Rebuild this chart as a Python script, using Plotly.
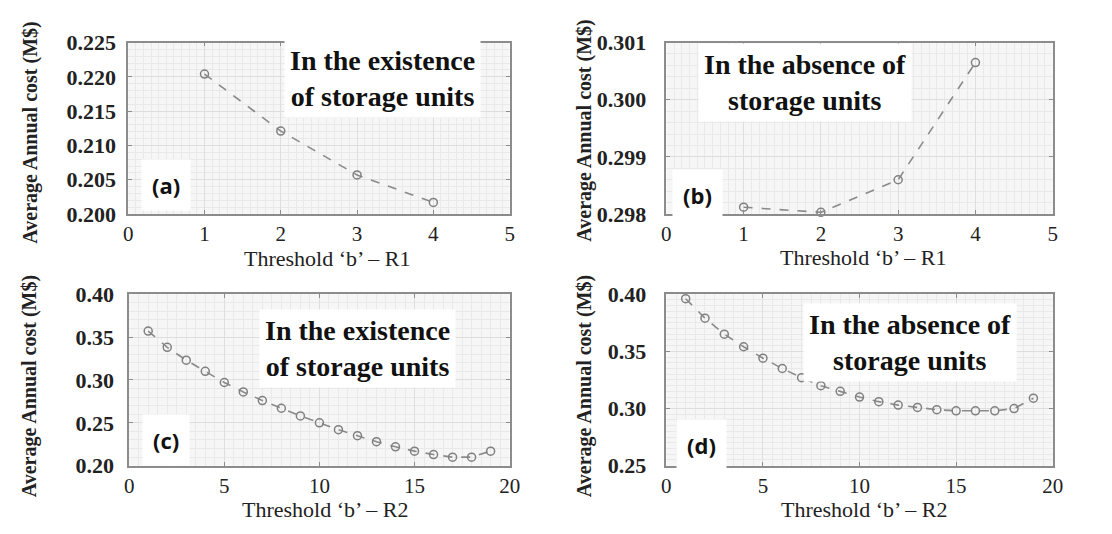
import plotly.graph_objects as go

# ---- data ----
b_r1 = [1, 2, 3, 4]
cost_a = [0.2204, 0.2121, 0.2057, 0.2017]
cost_b = [0.29812, 0.29803, 0.2986, 0.30065]

b_r2 = list(range(1, 20))
cost_c = [0.357, 0.338, 0.323, 0.310, 0.297, 0.286, 0.276, 0.267, 0.258, 0.250,
          0.242, 0.235, 0.228, 0.222, 0.217, 0.213, 0.210, 0.210, 0.217]
cost_d = [0.396, 0.379, 0.365, 0.354, 0.344, 0.335, 0.327, 0.320, 0.315, 0.310,
          0.306, 0.303, 0.301, 0.299, 0.298, 0.298, 0.298, 0.300, 0.309]

panel_labels = ["(a)", "(b)", "(c)", "(d)"]
panel_texts = ["In the existence<br>of storage units", "In the absence of<br>storage units",
               "In the existence<br>of storage units", "In the absence of<br>storage units"]
x_titles = ["Threshold \u2018b\u2019 \u2013 R1", "Threshold \u2018b\u2019 \u2013 R1",
            "Threshold \u2018b\u2019 \u2013 R2", "Threshold \u2018b\u2019 \u2013 R2"]
y_title = "Average Annual cost (M$)"

W, H = 1112, 534
SERIF = "Liberation Serif, Times New Roman, serif"
SANS = "Open Sans, Liberation Sans, sans-serif"

# pixel boxes of plot areas: (left, right, top, bottom)
boxes = [(125, 512, 32, 212), (671, 1063, 32, 212), (126, 512, 296, 476), (671, 1063, 296, 476)]
xranges = [[0, 5], [0, 5], [0, 20], [0, 20]]
yranges = [[0.200, 0.225], [0.298, 0.301], [0.20, 0.40], [0.25, 0.40]]
xdt = [1, 1, 5, 5]
ydt = [0.005, 0.001, 0.05, 0.05]
xminor = [0.1, 0.1, 0.5, 0.5]
yminor = [0.001, 0.0002, 0.01, 0.005]
yfmt = [".3f", ".3f", ".2f", ".2f"]
standoff = [6, 14, 9, 14]

xs = [b_r1, b_r1, b_r2, b_r2]
ys = [cost_a, cost_b, cost_c, cost_d]

fig = go.Figure()
layout = dict(width=W, height=H, margin=dict(l=0, r=0, t=0, b=0),
              paper_bgcolor="white", plot_bgcolor="#f6f6f6", showlegend=False)
annotations = []

for i in range(4):
    sfx = "" if i == 0 else str(i + 1)
    l, r, t, b = boxes[i]
    fig.add_trace(go.Scatter(
        x=xs[i], y=ys[i], mode="lines+markers",
        xaxis="x" + sfx, yaxis="y" + sfx,
        line=dict(color="#8a8a8a", width=1.6, dash="dash"),
        marker=dict(symbol="circle-open", size=8, color="#808080", line=dict(width=1.5)),
        cliponaxis=False))
    layout["xaxis" + sfx] = dict(
        domain=[l / W, r / W], anchor="y" + sfx, range=xranges[i], dtick=xdt[i], tick0=0,
        showline=True, linecolor="#8c8c8c", linewidth=1.5, mirror="ticks",
        ticks="inside", ticklen=4, tickcolor="#8c8c8c",
        showgrid=True, gridcolor="#dedede", gridwidth=1, zeroline=False,
        minor=dict(dtick=xminor[i], showgrid=True, gridcolor="#e9e9e9", gridwidth=1),
        tickfont=dict(family=SERIF, size=21, color="#222"), ticklabelstandoff=0)
    layout["yaxis" + sfx] = dict(
        domain=[1 - b / H, 1 - t / H], anchor="x" + sfx, range=yranges[i], dtick=ydt[i],
        tick0=yranges[i][0], tickformat=yfmt[i],
        showline=True, linecolor="#8c8c8c", linewidth=1.5, mirror="ticks",
        ticks="inside", ticklen=4, tickcolor="#8c8c8c",
        showgrid=True, gridcolor="#dedede", gridwidth=1, zeroline=False,
        minor=dict(dtick=yminor[i], showgrid=True, gridcolor="#e9e9e9", gridwidth=1),
        tickfont=dict(family=SERIF, size=22, color="#222", weight="bold"),
        ticklabelstandoff=standoff[i])

# panel text boxes
txt_pos = [(0.667, 0.79), (0.36, 0.765), (0.60, 0.683), (0.63, 0.718)]
lab_pos = [(0.098, 0.17), (0.08, 0.11), (0.096, 0.15), (0.09, 0.12)]
xt_pos = [(327, 259), (871, 258), (325, 522), (872, 522)]
yt_pos = [(25, 127), (588, 125), (25, 393), (588, 393)]
for i in range(4):
    sfx = "" if i == 0 else str(i + 1)
    annotations.append(dict(
        text="<b>" + panel_texts[i] + "</b>", xref="x" + sfx + " domain", yref="y" + sfx + " domain",
        x=txt_pos[i][0], y=txt_pos[i][1], xanchor="center", yanchor="middle",
        showarrow=False, align="center",
        font=dict(family=SERIF, size=28, color="#111"), bgcolor="white", borderpad=5))
    annotations.append(dict(
        text="<b>" + panel_labels[i] + "</b>", xref="x" + sfx + " domain", yref="y" + sfx + " domain",
        x=lab_pos[i][0], y=lab_pos[i][1], xanchor="center", yanchor="middle", showarrow=False,
        font=dict(family=SANS, size=22, color="#111"), bgcolor="white", borderpad=10))
    annotations.append(dict(
        text=x_titles[i], xref="paper", yref="paper",
        x=xt_pos[i][0] / W, y=1 - xt_pos[i][1] / H, xanchor="center", yanchor="middle",
        showarrow=False, font=dict(family=SERIF, size=22, color="#222")))
    annotations.append(dict(
        text="<b>" + y_title + "</b>", xref="paper", yref="paper", textangle=-90,
        x=yt_pos[i][0] / W, y=1 - yt_pos[i][1] / H, xanchor="center", yanchor="middle",
        showarrow=False, font=dict(family=SERIF, size=20, color="#222")))

layout["annotations"] = annotations
fig.update_layout(**layout)
fig.write_html("out.html")
